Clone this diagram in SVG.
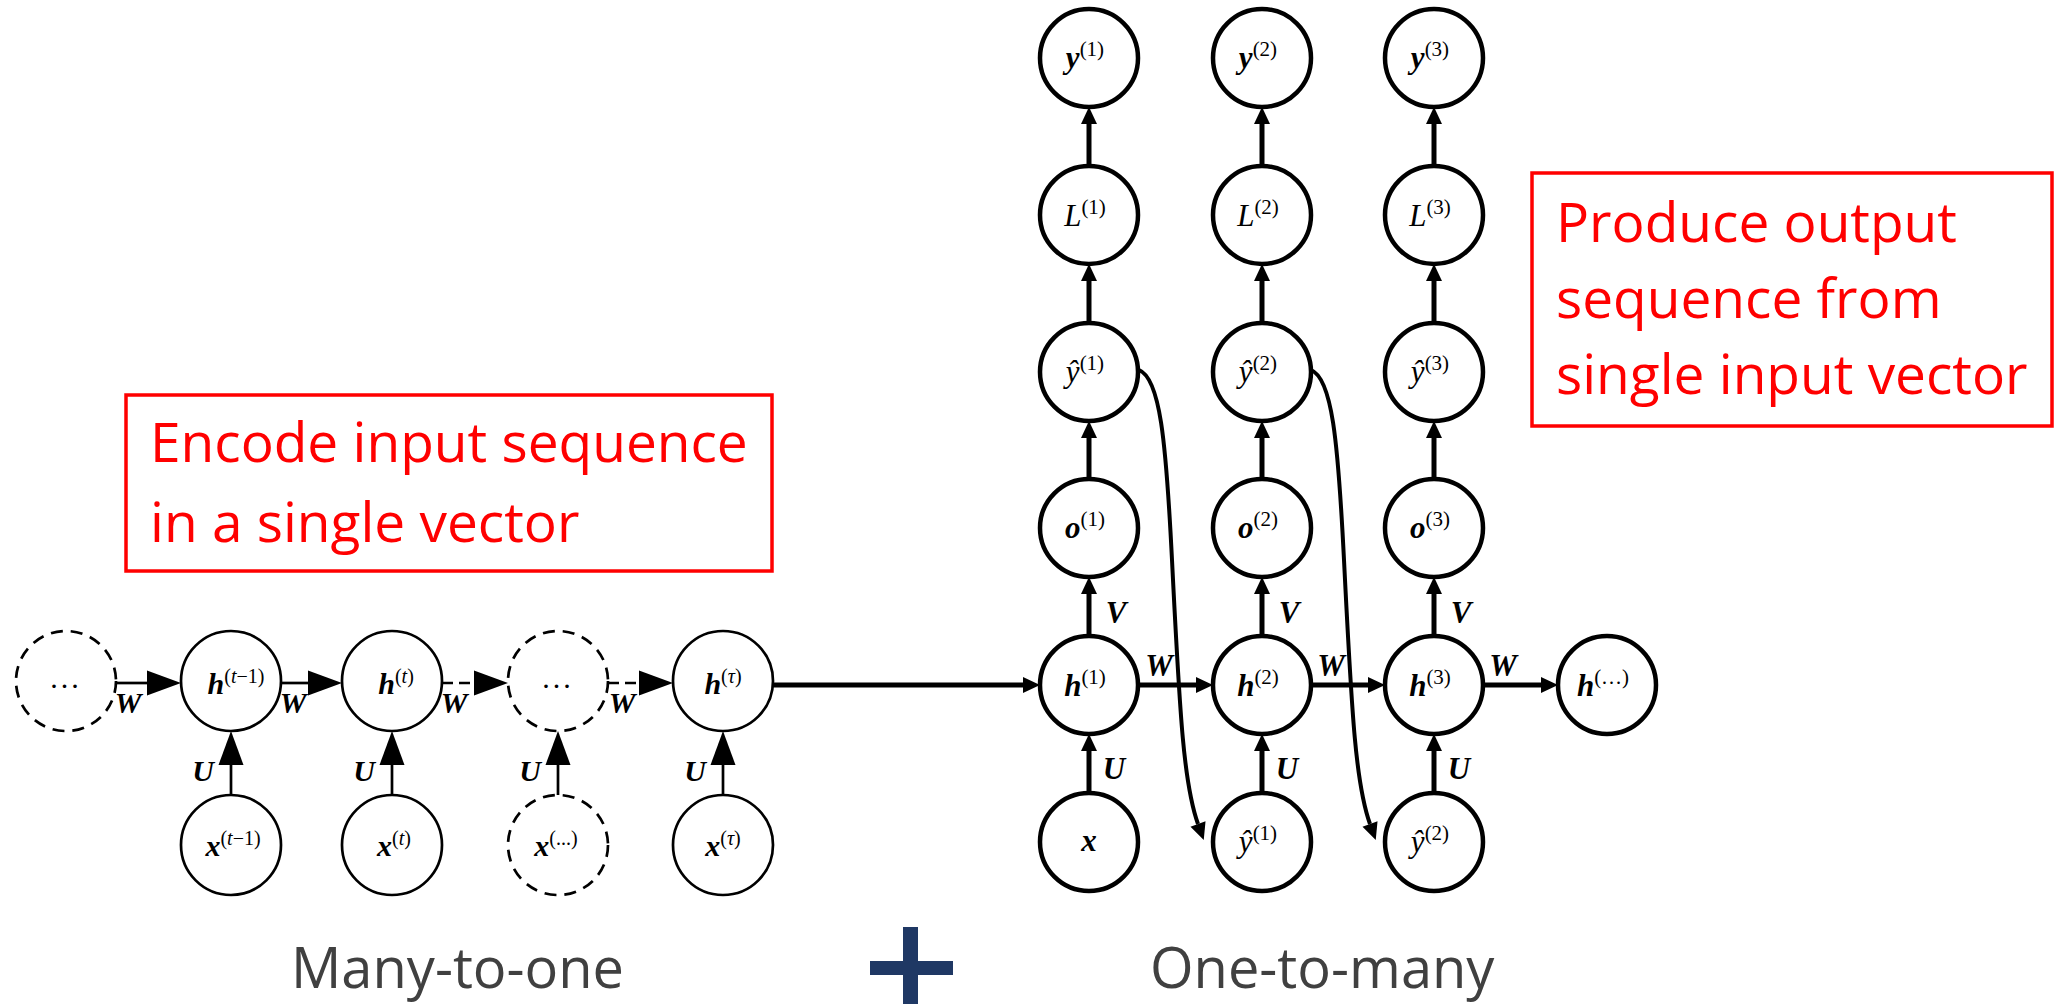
<svg xmlns="http://www.w3.org/2000/svg" width="2066" height="1004" viewBox="0 0 2066 1004">
<defs>
<style>
.bg{fill:#fff}
circle.n{fill:#fff;stroke:#000}
.ln circle.n{stroke-width:2.7}
.rn circle.n{stroke-width:4.5}
circle.d{stroke-dasharray:12 8}
.m{font-family:"Liberation Serif","DejaVu Serif",serif;fill:#000;text-anchor:middle}
.ls{font-size:30px}
.rs{font-size:31px}
.bi{font-weight:bold;font-style:italic}
.it{font-style:italic}
.sl{font-size:20px}
.sr{font-size:21px}
.thin{stroke:#000;stroke-width:2.7;fill:none}
.thick{stroke:#000;stroke-width:5;fill:none}
.curve{stroke:#000;stroke-width:4;fill:none}
.dl{stroke-dasharray:11 6}
.red{font-family:"Open Sans","Liberation Sans",sans-serif;font-size:55px;fill:#ff0000}
.box{fill:none;stroke:#ff0000;stroke-width:3.5}
.cap{font-family:"Open Sans","Liberation Sans",sans-serif;font-size:56px;fill:#404040}
</style>
<marker id="big" markerUnits="userSpaceOnUse" markerWidth="35" markerHeight="26" refX="0" refY="12.5" orient="auto" overflow="visible">
<path d="M0,0 L34,12.5 L0,25 Z" fill="#000"/>
</marker>
<marker id="sm" markerUnits="userSpaceOnUse" markerWidth="18" markerHeight="17" refX="0" refY="8" orient="auto" overflow="visible">
<path d="M0,0 L17,8 L0,16 Z" fill="#000"/>
</marker>
</defs>
<rect class="bg" x="0" y="0" width="2066" height="1004"/>

<g id="connectors">
<path class="thin" d="M116,683 L147,683" marker-end="url(#big)"/>
<path class="thin" d="M281,683 L308,683" marker-end="url(#big)"/>
<path class="thin dl" d="M442,683 L474,683" marker-end="url(#big)"/>
<path class="thin dl" d="M608,683 L639,683" marker-end="url(#big)"/>
<path class="thin" d="M231,795 L231,765" marker-end="url(#big)"/>
<path class="thin" d="M392,795 L392,765" marker-end="url(#big)"/>
<path class="thin" d="M558,795 L558,765" marker-end="url(#big)"/>
<path class="thin" d="M723,795 L723,765" marker-end="url(#big)"/>
<path class="thick" d="M773,685 L1023,685" marker-end="url(#sm)"/>
<path class="thick" d="M1138,685 L1196,685" marker-end="url(#sm)"/>
<path class="thick" d="M1311,685 L1368,685" marker-end="url(#sm)"/>
<path class="thick" d="M1483,685 L1541,685" marker-end="url(#sm)"/>
<path class="thick" d="M1089,793 L1089,751" marker-end="url(#sm)"/>
<path class="thick" d="M1262,793 L1262,751" marker-end="url(#sm)"/>
<path class="thick" d="M1434,793 L1434,751" marker-end="url(#sm)"/>
<path class="thick" d="M1089,636 L1089,594" marker-end="url(#sm)"/>
<path class="thick" d="M1262,636 L1262,594" marker-end="url(#sm)"/>
<path class="thick" d="M1434,636 L1434,594" marker-end="url(#sm)"/>
<path class="thick" d="M1089,479 L1089,438" marker-end="url(#sm)"/>
<path class="thick" d="M1262,479 L1262,438" marker-end="url(#sm)"/>
<path class="thick" d="M1434,479 L1434,438" marker-end="url(#sm)"/>
<path class="thick" d="M1089,323 L1089,281" marker-end="url(#sm)"/>
<path class="thick" d="M1262,323 L1262,281" marker-end="url(#sm)"/>
<path class="thick" d="M1434,323 L1434,281" marker-end="url(#sm)"/>
<path class="thick" d="M1089,166 L1089,124" marker-end="url(#sm)"/>
<path class="thick" d="M1262,166 L1262,124" marker-end="url(#sm)"/>
<path class="thick" d="M1434,166 L1434,124" marker-end="url(#sm)"/>
<path class="curve" d="M1139,370 C1160,378 1166,440 1172,560 C1180,720 1184,785 1198,824" marker-end="url(#sm)"/>
<path class="curve" d="M1311,370 C1332,378 1338,440 1344,560 C1352,720 1356,785 1370,824" marker-end="url(#sm)"/>
</g>

<g id="edge-labels" class="m">
<text class="ls bi" x="128" y="713">W</text>
<text class="ls bi" x="293" y="713">W</text>
<text class="ls bi" x="454" y="713">W</text>
<text class="ls bi" x="622" y="713">W</text>
<text class="ls bi" x="203" y="781">U</text>
<text class="ls bi" x="364" y="781">U</text>
<text class="ls bi" x="530" y="781">U</text>
<text class="ls bi" x="695" y="781">U</text>
<text class="rs bi" x="1159" y="676">W</text>
<text class="rs bi" x="1331" y="676">W</text>
<text class="rs bi" x="1503" y="676">W</text>
<text class="rs bi" x="1116" y="623">V</text>
<text class="rs bi" x="1289" y="623">V</text>
<text class="rs bi" x="1461" y="623">V</text>
<text class="rs bi" x="1114" y="779">U</text>
<text class="rs bi" x="1287" y="779">U</text>
<text class="rs bi" x="1459" y="779">U</text>
</g>

<g id="left-nodes" class="ln">
<g id="n-dots1"><circle class="n d" cx="66" cy="681" r="50"/><text class="m ls" x="66" y="688" letter-spacing="3">...</text></g>
<g id="n-h-t-1"><circle class="n" cx="231" cy="681" r="50"/><text class="m ls" x="236" y="694"><tspan class="bi">h</tspan><tspan class="sl" dy="-11">(<tspan class="it">t</tspan>−1)</tspan></text></g>
<g id="n-h-t"><circle class="n" cx="392" cy="681" r="50"/><text class="m ls" x="396" y="694"><tspan class="bi">h</tspan><tspan class="sl" dy="-11">(<tspan class="it">t</tspan>)</tspan></text></g>
<g id="n-dots2"><circle class="n d" cx="558" cy="681" r="50"/><text class="m ls" x="558" y="688" letter-spacing="3">...</text></g>
<g id="n-h-tau"><circle class="n" cx="723" cy="681" r="50"/><text class="m ls" x="723" y="694"><tspan class="bi">h</tspan><tspan class="sl" dy="-11">(<tspan class="it">τ</tspan>)</tspan></text></g>
<g id="n-x-t-1"><circle class="n" cx="231" cy="845" r="50"/><text class="m ls" x="233" y="856"><tspan class="bi">x</tspan><tspan class="sl" dy="-11">(<tspan class="it">t</tspan>−1)</tspan></text></g>
<g id="n-x-t"><circle class="n" cx="392" cy="845" r="50"/><text class="m ls" x="394" y="856"><tspan class="bi">x</tspan><tspan class="sl" dy="-11">(<tspan class="it">t</tspan>)</tspan></text></g>
<g id="n-x-dots"><circle class="n d" cx="558" cy="845" r="50"/><text class="m ls" x="556" y="856"><tspan class="bi">x</tspan><tspan class="sl" dy="-11">(...)</tspan></text></g>
<g id="n-x-tau"><circle class="n" cx="723" cy="845" r="50"/><text class="m ls" x="723" y="856"><tspan class="bi">x</tspan><tspan class="sl" dy="-11">(<tspan class="it">τ</tspan>)</tspan></text></g>
</g>

<g id="right-nodes" class="rn">
<g id="n-y1"><circle class="n" cx="1089" cy="58" r="49"/><text class="m rs" x="1085" y="68"><tspan class="bi">y</tspan><tspan class="sr" dy="-12">(1)</tspan></text></g>
<g id="n-y2"><circle class="n" cx="1262" cy="58" r="49"/><text class="m rs" x="1258" y="68"><tspan class="bi">y</tspan><tspan class="sr" dy="-12">(2)</tspan></text></g>
<g id="n-y3"><circle class="n" cx="1434" cy="58" r="49"/><text class="m rs" x="1430" y="68"><tspan class="bi">y</tspan><tspan class="sr" dy="-12">(3)</tspan></text></g>
<g id="n-L1"><circle class="n" cx="1089" cy="215" r="49"/><text class="m rs" x="1085" y="226"><tspan class="it">L</tspan><tspan class="sr" dy="-12">(1)</tspan></text></g>
<g id="n-L2"><circle class="n" cx="1262" cy="215" r="49"/><text class="m rs" x="1258" y="226"><tspan class="it">L</tspan><tspan class="sr" dy="-12">(2)</tspan></text></g>
<g id="n-L3"><circle class="n" cx="1434" cy="215" r="49"/><text class="m rs" x="1430" y="226"><tspan class="it">L</tspan><tspan class="sr" dy="-12">(3)</tspan></text></g>
<g id="n-yh1"><circle class="n" cx="1089" cy="372" r="49"/><text class="m rs" x="1085" y="382"><tspan class="it">ŷ</tspan><tspan class="sr" dy="-12">(1)</tspan></text></g>
<g id="n-yh2"><circle class="n" cx="1262" cy="372" r="49"/><text class="m rs" x="1258" y="382"><tspan class="it">ŷ</tspan><tspan class="sr" dy="-12">(2)</tspan></text></g>
<g id="n-yh3"><circle class="n" cx="1434" cy="372" r="49"/><text class="m rs" x="1430" y="382"><tspan class="it">ŷ</tspan><tspan class="sr" dy="-12">(3)</tspan></text></g>
<g id="n-o1"><circle class="n" cx="1089" cy="528" r="49"/><text class="m rs" x="1085" y="538"><tspan class="bi">o</tspan><tspan class="sr" dy="-12">(1)</tspan></text></g>
<g id="n-o2"><circle class="n" cx="1262" cy="528" r="49"/><text class="m rs" x="1258" y="538"><tspan class="bi">o</tspan><tspan class="sr" dy="-12">(2)</tspan></text></g>
<g id="n-o3"><circle class="n" cx="1434" cy="528" r="49"/><text class="m rs" x="1430" y="538"><tspan class="bi">o</tspan><tspan class="sr" dy="-12">(3)</tspan></text></g>
<g id="n-h1"><circle class="n" cx="1089" cy="685" r="49"/><text class="m rs" x="1085" y="696"><tspan class="bi">h</tspan><tspan class="sr" dy="-12">(1)</tspan></text></g>
<g id="n-h2"><circle class="n" cx="1262" cy="685" r="49"/><text class="m rs" x="1258" y="696"><tspan class="bi">h</tspan><tspan class="sr" dy="-12">(2)</tspan></text></g>
<g id="n-h3"><circle class="n" cx="1434" cy="685" r="49"/><text class="m rs" x="1430" y="696"><tspan class="bi">h</tspan><tspan class="sr" dy="-12">(3)</tspan></text></g>
<g id="n-hdots"><circle class="n" cx="1607" cy="685" r="49"/><text class="m rs" x="1603" y="696"><tspan class="bi">h</tspan><tspan class="sr" dy="-12">(…)</tspan></text></g>
<g id="n-x"><circle class="n" cx="1089" cy="842" r="49"/><text class="m rs bi" x="1089" y="851">x</text></g>
<g id="n-yhin1"><circle class="n" cx="1262" cy="842" r="49"/><text class="m rs" x="1258" y="852"><tspan class="it">ŷ</tspan><tspan class="sr" dy="-12">(1)</tspan></text></g>
<g id="n-yhin2"><circle class="n" cx="1434" cy="842" r="49"/><text class="m rs" x="1430" y="852"><tspan class="it">ŷ</tspan><tspan class="sr" dy="-12">(2)</tspan></text></g>
</g>

<g id="note-encode">
<rect class="box" x="126" y="395" width="646" height="176"/>
<text class="red" x="150" y="462">Encode input sequence</text>
<text class="red" x="150" y="542">in a single vector</text>
</g>
<g id="note-produce">
<rect class="box" x="1532" y="173" width="520" height="253"/>
<text class="red" x="1556" y="242">Produce output</text>
<text class="red" x="1556" y="318">sequence from</text>
<text class="red" x="1556" y="394">single input vector</text>
</g>

<g id="captions">
<text class="cap" x="291" y="988">Many-to-one</text>
<text class="cap" x="1150" y="988">One-to-many</text>
<g id="plus" fill="#1f3864">
<rect x="903" y="927" width="15" height="77"/>
<rect x="870" y="961" width="83" height="14"/>
</g>
</g>
</svg>
